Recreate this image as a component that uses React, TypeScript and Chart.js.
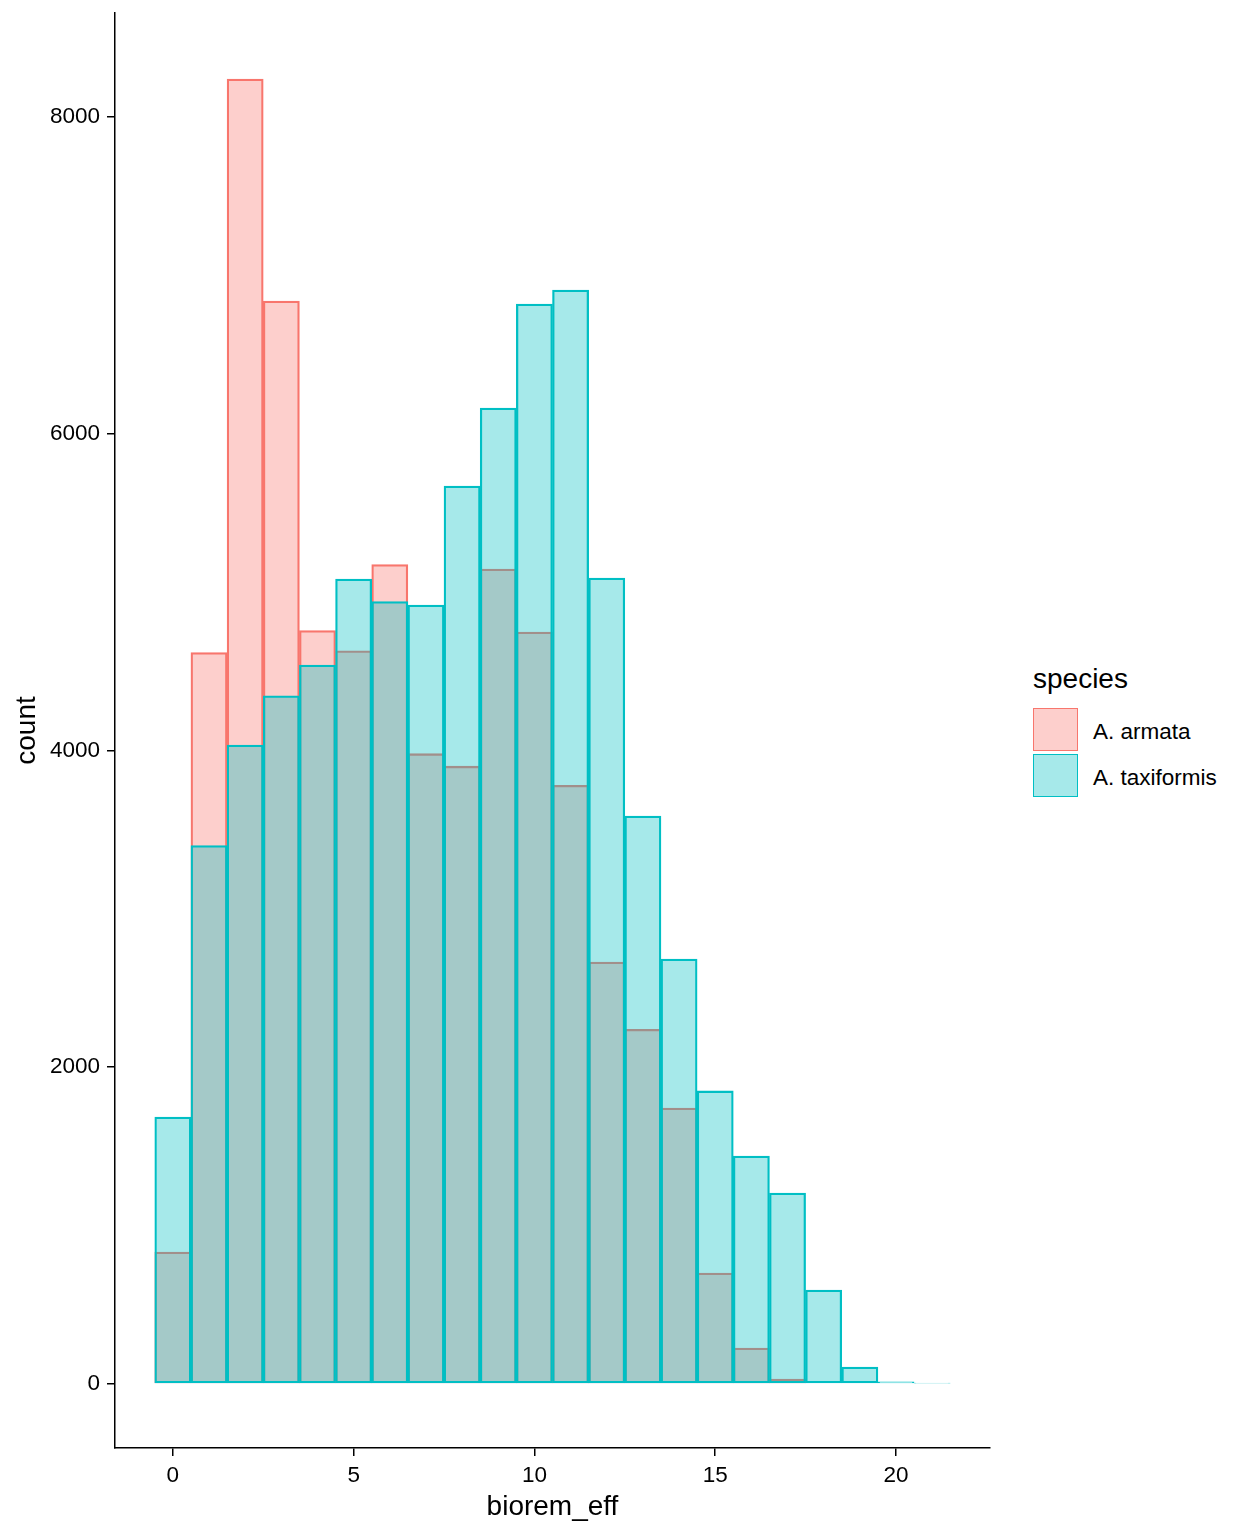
import { useEffect, useRef } from "react"
import { Chart, registerables } from "chart.js"

Chart.register(...registerables)

const bins = [0, 1, 2, 3, 4, 5, 6, 7, 8, 9, 10, 11, 12, 13, 14, 15, 16, 17, 18, 19, 20, 21]
const armata = [832, 4617, 8240, 6838, 4756, 4629, 5173, 3979, 3900, 5145, 4747, 3780, 2663, 2238, 1741, 699, 225, 30, 0, 0, 0, 0]
const taxiformis = [1684, 3398, 4034, 4345, 4539, 5082, 4939, 4918, 5669, 6162, 6818, 6907, 5088, 3585, 2682, 1849, 1438, 1204, 592, 105, 12, 4]
const xTicks = [0, 5, 10, 15, 20]
const yTicks = [0, 2000, 4000, 6000, 8000]

const FONT = "'Liberation Sans', Arial, sans-serif"

const species = [
  { label: "A. armata", fill: "rgba(248, 118, 109, 0.35)", line: "#F8766D" },
  { label: "A. taxiformis", fill: "rgba(0, 191, 196, 0.35)", line: "#00BFC4" },
]

export default function App() {
  const canvasRef = useRef<HTMLCanvasElement>(null)

  useEffect(() => {
    document.body.style.margin = "0"
    if (!canvasRef.current) return

    const chart = new Chart(canvasRef.current, {
      type: "bar",
      data: {
        datasets: [
          {
            label: species[0].label,
            data: bins.map((b, i) => ({ x: b, y: armata[i] })),
            backgroundColor: species[0].fill,
            borderColor: species[0].line,
            borderWidth: 1.6,
            borderSkipped: false,
            order: 1,
          },
          {
            label: species[1].label,
            data: bins.map((b, i) => ({ x: b, y: taxiformis[i] })),
            backgroundColor: species[1].fill,
            borderColor: species[1].line,
            borderWidth: 1.6,
            borderSkipped: false,
            order: 0,
          },
        ],
      },
      options: {
        responsive: true,
        maintainAspectRatio: false,
        animation: false,
        grouped: false,
        categoryPercentage: 1,
        barPercentage: 1,
        layout: { padding: { top: 13, right: 20, bottom: 0, left: 0 } },
        scales: {
          x: {
            type: "linear",
            min: -1.6,
            max: 22.6,
            offset: false,
            afterBuildTicks: (scale) => {
              scale.ticks = xTicks.map((v) => ({ value: v }))
            },
            afterFit: (scale) => {
              scale.height = 88
              scale.paddingLeft = 0
              scale.paddingRight = 0
            },
            ticks: {
              color: "#000",
              font: { family: FONT, size: 22.5 },
              padding: 6,
              maxRotation: 0,
              callback: (v) => String(v),
            },
            grid: {
              offset: false,
              drawOnChartArea: false,
              drawTicks: true,
              tickLength: 8,
              color: "#000",
              lineWidth: 1.5,
            },
            border: { display: true, color: "#000", width: 1.5 },
            title: {
              display: true,
              text: "biorem_eff",
              color: "#000",
              font: { family: FONT, size: 28 },
              padding: { top: 0, bottom: 12 },
            },
          },
          y: {
            min: -406,
            max: 8657,
            afterBuildTicks: (scale) => {
              scale.ticks = yTicks.map((v) => ({ value: v }))
            },
            afterFit: (scale) => {
              scale.width = 115
              scale.paddingTop = 0
              scale.paddingBottom = 0
            },
            ticks: {
              color: "#000",
              font: { family: FONT, size: 22.5 },
              padding: 7,
              callback: (v) => String(v),
            },
            grid: {
              drawOnChartArea: false,
              drawTicks: true,
              tickLength: 8,
              color: "#000",
              lineWidth: 1.5,
            },
            border: { display: true, color: "#000", width: 1.5 },
            title: {
              display: true,
              text: "count",
              color: "#000",
              font: { family: FONT, size: 28 },
              padding: { top: 10, bottom: 0 },
            },
          },
        },
        plugins: {
          legend: { display: false },
          tooltip: { enabled: false },
        },
      },
    })

    return () => {
      chart.destroy()
    }
  }, [])

  return (
    <div style={{ position: "relative", width: 1248, height: 1536, background: "#fff", fontFamily: FONT }}>
      <div style={{ position: "absolute", left: 0, top: 0, width: 1010, height: 1536 }}>
        <canvas ref={canvasRef} />
      </div>
      <div style={{ position: "absolute", left: 1033, top: 665, fontSize: 28, lineHeight: "28px", color: "#000" }}>
        species
      </div>
      {species.map((s, i) => (
        <div key={s.label}>
          <div
            style={{
              position: "absolute",
              left: 1033,
              top: 708 + i * 46,
              width: 45,
              height: 43,
              boxSizing: "border-box",
              border: `1.6px solid ${s.line}`,
              background: s.fill,
            }}
          />
          <div
            style={{
              position: "absolute",
              left: 1093,
              top: 721 + i * 46,
              fontSize: 22.5,
              lineHeight: "22.5px",
              color: "#000",
              whiteSpace: "nowrap",
            }}
          >
            {s.label}
          </div>
        </div>
      ))}
    </div>
  )
}
